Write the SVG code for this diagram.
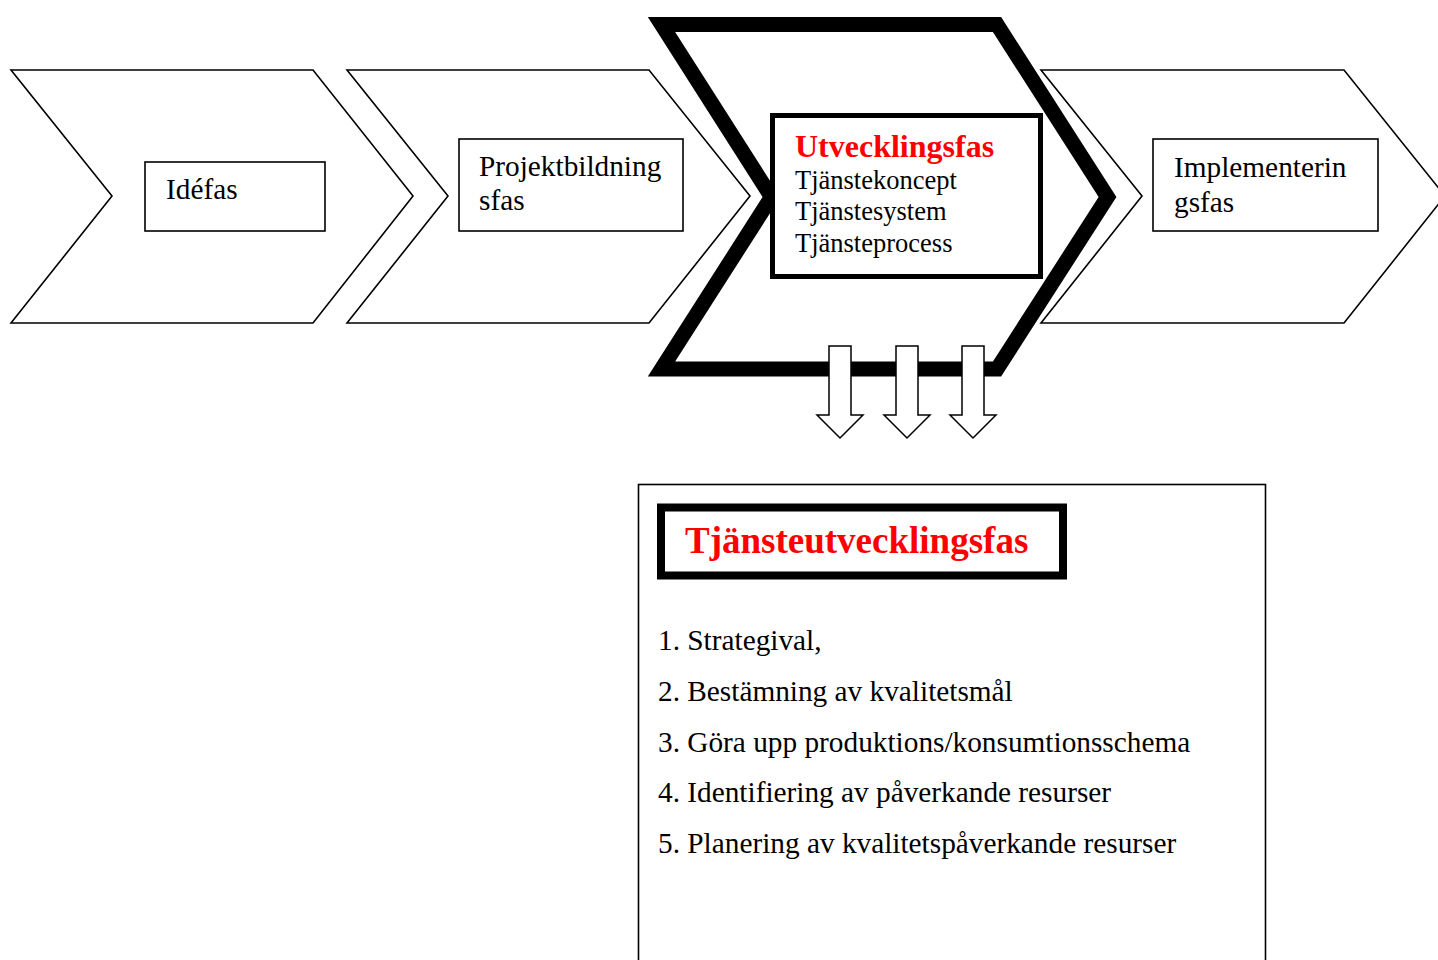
<svg xmlns="http://www.w3.org/2000/svg" width="1438" height="960" viewBox="0 0 1438 960">
<style>
.thin{fill:#fff;stroke:#000;stroke-width:1.6;stroke-linejoin:miter}
.box{fill:#fff;stroke:#000;stroke-width:1.6}
.t{font-family:"Liberation Serif","Times New Roman",serif;fill:#000}
.r{font-family:"Liberation Serif","Times New Roman",serif;fill:#ff0000;font-weight:bold}
.arr{fill:#fff;stroke:#000;stroke-width:1.5;stroke-linejoin:miter}
</style>
<rect width="1438" height="960" fill="#fff"/>
<g id="idefas">
<polygon class="thin" points="11,70 313,70 413,196 313,323 11,323 112,196"/>
<rect class="box" x="145" y="162" width="180" height="69"/>
<text class="t" x="166" y="199" font-size="29.3">Idéfas</text>
</g>
<g id="projektbildningsfas">
<polygon class="thin" points="347,70 649,70 750,196 649,323 347,323 448,196"/>
<rect class="box" x="459" y="139" width="224" height="92"/>
<text class="t" x="479" y="176" font-size="29.3">Projektbildning</text>
<text class="t" x="479" y="210" font-size="29.3">sfas</text>
</g>
<g id="implementeringsfas">
<polygon class="thin" points="1041,70 1344,70 1445,196 1344,323 1041,323 1142,196"/>
<rect class="box" x="1153" y="139" width="225" height="92"/>
<text class="t" x="1174" y="177" font-size="29.3">Implementerin</text>
<text class="t" x="1174" y="212" font-size="29.3">gsfas</text>
</g>
<g id="utvecklingsfas">
<polygon points="661.5,24.5 997,24.5 1107.5,197 997,369 661.5,369 771.5,197" fill="#fff" stroke="#000" stroke-width="15" stroke-linejoin="miter" stroke-miterlimit="10"/>
<rect x="772.5" y="115.5" width="268" height="161" fill="#fff" stroke="#000" stroke-width="5"/>
<text class="r" x="795" y="157" font-size="32">Utvecklingsfas</text>
<text class="t" x="795" y="189" font-size="26.5">Tjänstekoncept</text>
<text class="t" x="795" y="220" font-size="26.5">Tjänstesystem</text>
<text class="t" x="795" y="252" font-size="26.5">Tjänsteprocess</text>
</g>
<g id="connectors">
<polygon class="arr" points="829,346 851,346 851,415 863,415 840,438 817,415 829,415"/>
<polygon class="arr" points="896,346 918,346 918,415 930,415 907,438 884,415 896,415"/>
<polygon class="arr" points="962,346 984,346 984,415 996,415 973,438 950,415 962,415"/>
</g>
<g id="tjansteutvecklingsfas">
<rect x="638.5" y="484.5" width="627" height="490" fill="#fff" stroke="#000" stroke-width="1.6"/>
<rect x="661" y="507.5" width="402" height="68" fill="#fff" stroke="#000" stroke-width="8"/>
<text class="r" x="685" y="553" font-size="37">Tjänsteutvecklingsfas</text>
<text class="t" x="658" y="650" font-size="29.3">1. Strategival,</text>
<text class="t" x="658" y="701" font-size="29.3">2. Bestämning av kvalitetsmål</text>
<text class="t" x="658" y="752" font-size="29.3">3. Göra upp produktions/konsumtionsschema</text>
<text class="t" x="658" y="802" font-size="29.3">4. Identifiering av påverkande resurser</text>
<text class="t" x="658" y="853" font-size="29.3">5. Planering av kvalitetspåverkande resurser</text>
</g>
</svg>
